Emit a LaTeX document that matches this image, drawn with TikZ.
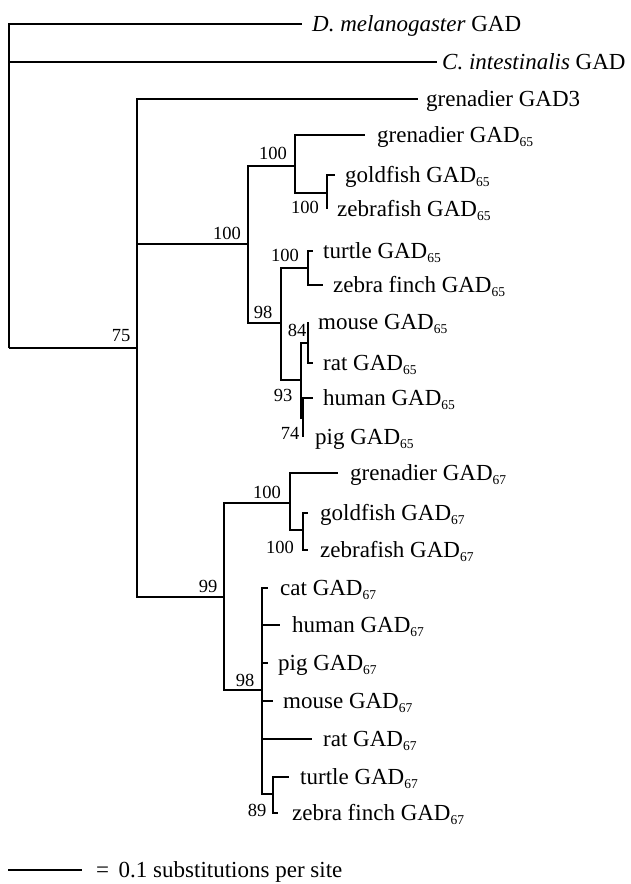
\documentclass[tikz,border=0pt]{standalone}
\usepackage{fontspec}
\setmainfont{Liberation Serif}
\newcommand{\gsub}[1]{\raisebox{-4.5pt}{\fontsize{13.5}{13.5}\selectfont #1}}
\begin{document}
\begin{tikzpicture}[x=1pt,y=-1pt,
  br/.style={line width=2.5pt},
  taxon/.style={anchor=base west, inner sep=0pt, font=\fontsize{23}{23}\selectfont},
  boot/.style={inner sep=0pt, font=\fontsize{18.5}{18.5}\selectfont}]
\fill[white] (0,0) rectangle (630,884);
\useasboundingbox (0,0) rectangle (630,884);
% internal nodes
\coordinate (root) at (9,348);
\coordinate (A) at (137,348);
\coordinate (B) at (248,244);
\coordinate (C) at (295,166);
\coordinate (D) at (327,193);
\coordinate (E) at (281,323);
\coordinate (F) at (308,268);
\coordinate (G) at (301,380);
\coordinate (H) at (308,343);
\coordinate (N) at (303,418);
\coordinate (I) at (224,597);
\coordinate (J) at (290,503);
\coordinate (K) at (303,530);
\coordinate (L) at (262,690);
\coordinate (M) at (273,794);
% tips
\coordinate (dmel) at (302,24);
\coordinate (cint) at (437,62);
\coordinate (g3) at (418,99);
\coordinate (gr65) at (365,135);
\coordinate (gf65) at (335,175);
\coordinate (zf65) at (327,209);
\coordinate (tu65) at (313,251);
\coordinate (fi65) at (323,285);
\coordinate (mo65) at (308,322);
\coordinate (ra65) at (313,363);
\coordinate (hu65) at (313,398);
\coordinate (pi65) at (303,437);
\coordinate (gr67) at (338,473);
\coordinate (gf67) at (308,513);
\coordinate (zf67) at (308,550);
\coordinate (ca67) at (268,588);
\coordinate (hu67) at (280,625);
\coordinate (pi67) at (268,663);
\coordinate (mo67) at (273,701);
\coordinate (ra67) at (312,739);
\coordinate (tu67) at (289,777);
\coordinate (fi67) at (278,813);
% branches
\draw[br] (root) |- (dmel);
\draw[br] (root) |- (cint);
\draw[br] (root) |- (A);
\draw[br] (A) |- (g3);
\draw[br] (A) |- (B);
\draw[br] (A) |- (I);
\draw[br] (B) |- (C);
\draw[br] (B) |- (E);
\draw[br] (C) |- (gr65);
\draw[br] (C) |- (D);
\draw[br] (D) |- (gf65);
\draw[br] (D) |- (zf65);
\draw[br] (E) |- (F);
\draw[br] (E) |- (G);
\draw[br] (F) |- (tu65);
\draw[br] (F) |- (fi65);
\draw[br] (G) |- (H);
\draw[br] (G) |- (N);
\draw[br] (H) |- (mo65);
\draw[br] (H) |- (ra65);
\draw[br] (N) |- (hu65);
\draw[br] (N) |- (pi65);
\draw[br] (I) |- (J);
\draw[br] (I) |- (L);
\draw[br] (J) |- (gr67);
\draw[br] (J) |- (K);
\draw[br] (K) |- (gf67);
\draw[br] (K) |- (zf67);
\draw[br] (L) |- (ca67);
\draw[br] (L) |- (hu67);
\draw[br] (L) |- (pi67);
\draw[br] (L) |- (mo67);
\draw[br] (L) |- (ra67);
\draw[br] (L) |- (M);
\draw[br] (M) |- (tu67);
\draw[br] (M) |- (fi67);
% taxon labels
\node[taxon] (t-dmel) at ([xshift=10,yshift=-7]dmel) {\textit{D. melanogaster} GAD};
\node[taxon] (t-cint) at ([xshift=5,yshift=-7]cint) {\textit{C. intestinalis} GAD};
\node[taxon] (t-g3) at ([xshift=8,yshift=-7]g3) {grenadier GAD3};
\node[taxon] (t-gr65) at ([xshift=12,yshift=-7]gr65) {grenadier GAD\gsub{65}};
\node[taxon] (t-gf65) at ([xshift=10,yshift=-7]gf65) {goldfish GAD\gsub{65}};
\node[taxon] (t-zf65) at ([xshift=10,yshift=-7]zf65) {zebrafish GAD\gsub{65}};
\node[taxon] (t-tu65) at ([xshift=10,yshift=-7]tu65) {turtle GAD\gsub{65}};
\node[taxon] (t-fi65) at ([xshift=10,yshift=-7]fi65) {zebra finch GAD\gsub{65}};
\node[taxon] (t-mo65) at ([xshift=10,yshift=-7]mo65) {mouse GAD\gsub{65}};
\node[taxon] (t-ra65) at ([xshift=10,yshift=-7]ra65) {rat GAD\gsub{65}};
\node[taxon] (t-hu65) at ([xshift=10,yshift=-7]hu65) {human GAD\gsub{65}};
\node[taxon] (t-pi65) at ([xshift=12,yshift=-7]pi65) {pig GAD\gsub{65}};
\node[taxon] (t-gr67) at ([xshift=12,yshift=-7]gr67) {grenadier GAD\gsub{67}};
\node[taxon] (t-gf67) at ([xshift=12,yshift=-7]gf67) {goldfish GAD\gsub{67}};
\node[taxon] (t-zf67) at ([xshift=12,yshift=-7]zf67) {zebrafish GAD\gsub{67}};
\node[taxon] (t-ca67) at ([xshift=12,yshift=-7]ca67) {cat GAD\gsub{67}};
\node[taxon] (t-hu67) at ([xshift=12,yshift=-7]hu67) {human GAD\gsub{67}};
\node[taxon] (t-pi67) at ([xshift=10,yshift=-7]pi67) {pig GAD\gsub{67}};
\node[taxon] (t-mo67) at ([xshift=10,yshift=-7]mo67) {mouse GAD\gsub{67}};
\node[taxon] (t-ra67) at ([xshift=11,yshift=-7]ra67) {rat GAD\gsub{67}};
\node[taxon] (t-tu67) at ([xshift=11,yshift=-7]tu67) {turtle GAD\gsub{67}};
\node[taxon] (t-fi67) at ([xshift=14,yshift=-7]fi67) {zebra finch GAD\gsub{67}};
% bootstrap values
\node[boot] (b75) at (121,336) {75};
\node[boot] (bB) at (227,233) {100};
\node[boot] (bC) at (273,153) {100};
\node[boot] (bD) at (305,207) {100};
\node[boot] (bE) at (263,312) {98};
\node[boot] (bF) at (285,255) {100};
\node[boot] (bH) at (297,330) {84};
\node[boot] (bG) at (283,395) {93};
\node[boot] (bN) at (290,433) {74};
\node[boot] (bI) at (208,586) {99};
\node[boot] (bJ) at (267,492) {100};
\node[boot] (bK) at (280,547) {100};
\node[boot] (bL) at (245,680) {98};
\node[boot] (bM) at (257,810) {89};
% scale bar
\coordinate (sb1) at (8,870);
\coordinate (sb2) at (82,870);
\draw[br] (sb1) -- (sb2);
\node[taxon] (sbt) at ([xshift=14,yshift=-7]sb2) {= \,0.1 substitutions per site};
\end{tikzpicture}
\end{document}
